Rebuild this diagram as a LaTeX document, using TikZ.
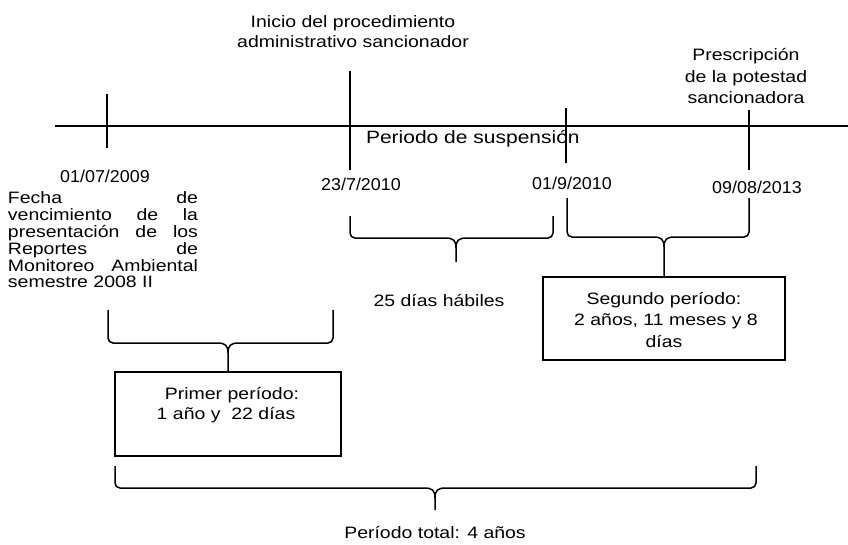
\documentclass[tikz,border=0pt]{standalone}
\usepackage{fontspec}
\setmainfont{Liberation Sans}[FakeStretch=1.18]
\newfontfamily\mydatefont{Liberation Sans}[FakeStretch=1.04]
\newcommand\mybrace[6]{%
  \draw[bracestyle, rounded corners=5pt] (#1,#4) -- (#1,#5) -- (#3-11,#5);
  \draw[bracestyle, rounded corners=5pt] (#2,#4) -- (#2,#5) -- (#3+11,#5);
  \draw[bracestyle] (#3-11,#5) .. controls (#3-3,#5) and (#3,#5+2) .. (#3,#5+10) -- (#6);
  \draw[bracestyle] (#3+11,#5) .. controls (#3+3,#5) and (#3,#5+2) .. (#3,#5+10);
}
\begin{document}
\begin{tikzpicture}[x=1pt,y=-1pt,
  every node/.style={inner sep=0pt, outer sep=0pt},
  txt/.style={font=\fontsize{16.5}{20}\selectfont, anchor=base},
  datetxt/.style={font=\mydatefont\fontsize{17.2}{20}\selectfont, anchor=base},
  bigtxt/.style={font=\fontsize{17.8}{22}\selectfont, anchor=base west},
  tick/.style={line width=1.4pt},
  mainline/.style={line width=2pt},
  bracestyle/.style={line width=1.5pt},
  boxstyle/.style={draw, line width=1.5pt}]
\useasboundingbox (0,0) rectangle (848,544);
% main line
\coordinate (m1) at (55,126);
\coordinate (m2) at (848,126);
\draw[mainline] (m1) -- (m2);
% ticks
\coordinate (a1) at (107,94);  \coordinate (a2) at (107,148);
\coordinate (b1) at (350,71);  \coordinate (b2) at (350,170);
\coordinate (c1) at (566,108); \coordinate (c2) at (566,163);
\coordinate (d1) at (749,110); \coordinate (d2) at (749,170);
\draw[tick] (a1) -- (a2);
\draw[tick] (b1) -- (b2);
\draw[tick] (c1) -- (c2);
\draw[tick] (d1) -- (d2);
% top labels
\node[txt] (i1) at (353,27) {Inicio del procedimiento};
\node[txt] (i2) at (353,47) {administrativo sancionador};
\node[txt] (p1) at (746,60) {Prescripción};
\node[txt] (p2) at (746,82) {de la potestad};
\node[txt] (p3) at (746,103) {sancionadora};
\node[bigtxt] (susp) at (366,143) {Periodo de suspensión};
% dates
\node[datetxt] (d2009) at (105,182) {01/07/2009};
\node[datetxt] (d2010a) at (361,190) {23/7/2010};
\node[datetxt] (d2010b) at (572,189) {01/9/2010};
\node[datetxt] (d2013) at (757,193) {09/08/2013};
% justified block
\node[txt, anchor=base west] (j1) at (8,203) {\makebox[190pt][s]{Fecha de}};
\node[txt, anchor=base west] (j2) at (8,220) {\makebox[190pt][s]{vencimiento de la}};
\node[txt, anchor=base west] (j3) at (8,237) {\makebox[190pt][s]{presentación de los}};
\node[txt, anchor=base west] (j4) at (8,254) {\makebox[190pt][s]{Reportes de}};
\node[txt, anchor=base west] (j5) at (8,271) {\makebox[190pt][s]{Monitoreo Ambiental}};
\node[txt, anchor=base west] (j6) at (8,287.5) {semestre 2008 II};
% 25 dias
\node[txt] (dias25) at (439,306) {25 días hábiles};
% boxes
\node[boxstyle, minimum width=226pt, minimum height=84pt] (box1) at (228,414) {};
\node[txt] (b1t1) at (232,399) {Primer período:};
\node[txt] (b1t2) at (226,419) {1 año y \ 22 días};
\node[boxstyle, minimum width=242pt, minimum height=83pt] (box2) at (664,318.5) {};
\node[txt] (b2t1) at (664,304) {Segundo período:};
\node[txt] (b2t2) at (666,325.5) {2 años, 11 meses y 8};
\node[txt] (b2t3) at (664,347) {días};
% total
\node[txt] (total) at (435,538) {Período total: 4 años};
% braces
\coordinate (e2) at (456,262);
\coordinate (e4) at (435,510);
\mybrace{108}{333}{228}{310}{343}{box1.north}
\mybrace{350}{553}{456}{216}{238}{e2}
\mybrace{567}{749}{664}{198}{237}{box2.north}
\mybrace{115}{756}{435}{466}{488}{e4}
\end{tikzpicture}
\end{document}
